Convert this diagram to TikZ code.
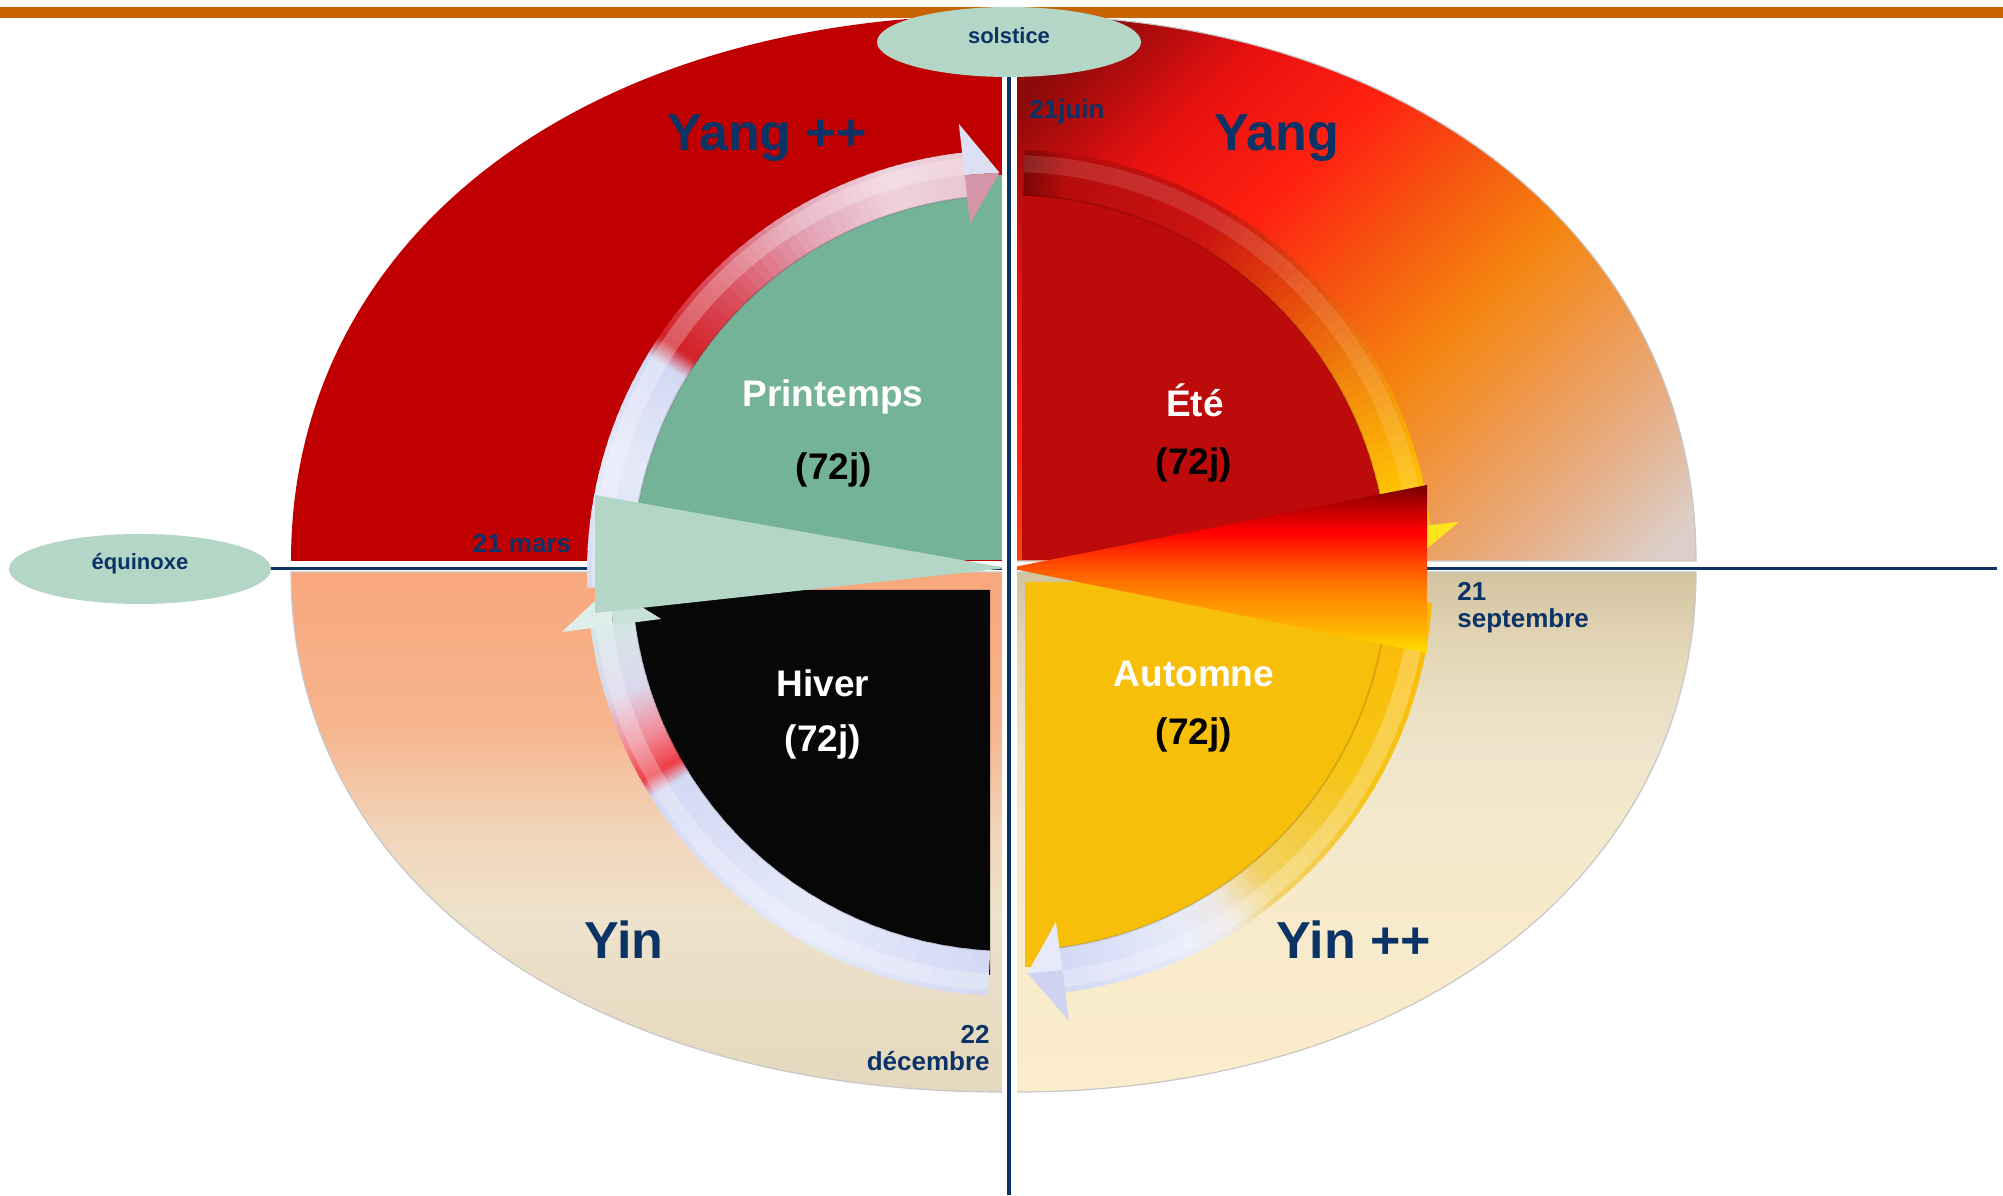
\documentclass[tikz,border=0pt]{standalone}
\usepackage{fontspec}
\setmainfont{Liberation Sans}
\usetikzlibrary{shapes.geometric}

\definecolor{navy}{HTML}{0B3366}
\definecolor{barorange}{HTML}{C86400}
\definecolor{tlred}{HTML}{C00000}
\definecolor{mint}{HTML}{B4D6C6}
\definecolor{spring}{HTML}{75B399}
\definecolor{summer}{HTML}{BD0A0A}
\definecolor{winter}{HTML}{070707}
\definecolor{autumn}{HTML}{F8BF0A}
% ring colours
\definecolor{lavA}{HTML}{D3D9F4}
\definecolor{lavW}{HTML}{E6EAFA}
\definecolor{lavD}{HTML}{CDD3F0}
\definecolor{ringred}{HTML}{D32027}
\definecolor{ringred2}{HTML}{D94A58}
\definecolor{ringred3}{HTML}{EE3E46}
\definecolor{pinkA}{HTML}{E3A3B6}
\definecolor{pinkW}{HTML}{EFD2DE}
\definecolor{pinkB}{HTML}{E9C6D4}
\definecolor{pinkC}{HTML}{F08E9A}
\definecolor{lavP}{HTML}{DCD8EE}
\definecolor{headlav}{HTML}{DCE0F2}
\definecolor{headpink}{HTML}{D596AA}
\definecolor{drk}{HTML}{7A0606}
\definecolor{rrA}{HTML}{B50C0C}
\definecolor{rrB}{HTML}{CC1410}
\definecolor{orA}{HTML}{E5470C}
\definecolor{orB}{HTML}{F2850C}
\definecolor{yeA}{HTML}{FDBA06}
\definecolor{yeB}{HTML}{FFD000}
\definecolor{yeH}{HTML}{FFE51F}
\definecolor{gold}{HTML}{F6C414}
\definecolor{goldL}{HTML}{F2D264}
\definecolor{creamW}{HTML}{EEE8E6}
\definecolor{mintL}{HTML}{D4E6E6}
\definecolor{mintH}{HTML}{DDEFE8}
\definecolor{mintHb}{HTML}{C8E2D8}
% triangle shading colours
\definecolor{tyel}{HTML}{FFE200}
\definecolor{tyel2}{HTML}{FFB400}
\definecolor{torg}{HTML}{FF8000}
\definecolor{tora}{HTML}{FF4000}
\definecolor{tred}{HTML}{FF0000}
\definecolor{tdred}{HTML}{C00000}
\definecolor{tdark}{HTML}{780000}
% quadrant shading colours
\definecolor{qa}{HTML}{8E0A0A}
\definecolor{qb}{HTML}{E81010}
\definecolor{qc}{HTML}{FF2010}
\definecolor{qd}{HTML}{F55A10}
\definecolor{qe}{HTML}{F5850F}
\definecolor{qf}{HTML}{EE9A50}
\definecolor{qg}{HTML}{E6B08A}
\definecolor{qh}{HTML}{DCCFC8}
\definecolor{bla}{HTML}{E4D8BE}
\definecolor{blb}{HTML}{EDE2CA}
\definecolor{blc}{HTML}{F1D5BA}
\definecolor{bld}{HTML}{F6B58E}
\definecolor{ble}{HTML}{F9A77D}
\definecolor{bra}{HTML}{FBEDCB}
\definecolor{brb}{HTML}{F7EACB}
\definecolor{brc}{HTML}{EFE5CC}
\definecolor{brd}{HTML}{E3D6B6}
\definecolor{bre}{HTML}{D2C3A0}

\pgfdeclareverticalshading{redtri}{100bp}{color(0bp)=(tyel); color(25bp)=(tyel); color(32bp)=(tyel2); color(44bp)=(torg); color(53bp)=(tora); color(61bp)=(tred); color(68bp)=(tdred); color(75bp)=(tdark); color(100bp)=(tdark)}
\pgfdeclareverticalshading{trq}{100bp}{color(0bp)=(qa); color(20bp)=(qa); color(30bp)=(qb); color(40bp)=(qc); color(50bp)=(qd); color(58bp)=(qe); color(67bp)=(qf); color(75bp)=(qg); color(83bp)=(qh); color(100bp)=(qh)}
\pgfdeclareverticalshading{blq}{100bp}{color(0bp)=(bla); color(25bp)=(bla); color(42bp)=(blb); color(50bp)=(blc); color(60bp)=(bld); color(75bp)=(ble); color(100bp)=(ble)}
\pgfdeclareverticalshading{brq}{100bp}{color(0bp)=(bra); color(25bp)=(bra); color(45bp)=(brb); color(58bp)=(brc); color(68bp)=(brd); color(75bp)=(bre); color(100bp)=(bre)}

\def\RingIn{378}
\def\RingOut{423}
\def\RingMid{400.5}

\newcommand\ringpart[4]{%
  \foreach \k in {0,...,9}{%
    \pgfmathsetmacro\aA{#1+(#2-#1)*\k/10}%
    \pgfmathsetmacro\aB{#1+(#2-#1)*(\k+1.5)/10}%
    \pgfmathtruncatemacro\pc{100*(\k+0.5)/10}%
    \fill[#4!\pc!#3] (\aA:\RingIn) arc[start angle=\aA,end angle=\aB,radius=\RingIn] -- (\aB:\RingOut) arc[start angle=\aB,end angle=\aA,radius=\RingOut] -- cycle;
  }}
\newcommand\ringgloss[3]{%
  \fill[white,opacity=#3] (#1:401) arc[start angle=#1,end angle=#2,radius=401] -- (#2:418) arc[start angle=#2,end angle=#1,radius=418] -- cycle;
  \draw[black,opacity=.15,line width=.8pt] (#1:\RingIn) arc[start angle=#1,end angle=#2,radius=\RingIn];}
\newcommand\arrowhd[4]{%
  \fill[#3] (#1:452) -- (#2:\RingMid) -- (#1:\RingMid) -- cycle;
  \fill[#4] (#1:352) -- (#2:\RingMid) -- (#1:\RingMid) -- cycle;}

\begin{document}
\begin{tikzpicture}[x=0.5pt,y=0.5pt,
  bigt/.style={font=\bfseries\fontsize{26}{26}\selectfont, text=navy, inner sep=0, anchor=base},
  seasonw/.style={font=\bfseries\fontsize{18.5}{18.5}\selectfont, text=white, inner sep=0, anchor=base},
  seasonb/.style={font=\bfseries\fontsize{18.5}{18.5}\selectfont, text=black, inner sep=0, anchor=base},
  smallt/.style={font=\bfseries\fontsize{13}{13.5}\selectfont, text=navy, inner sep=0},
  tinyt/.style={font=\bfseries\fontsize{11}{11}\selectfont, text=navy, inner sep=0, anchor=base},
  qedge/.style={draw=black!22, line width=.6pt}]
\useasboundingbox (0,0) rectangle (2003,1195);
\fill[white] (0,0) rectangle (2003,1195);

% ---- outer quadrants ----
\fill[tlred] (1003,634) -- (291,634) .. controls (291,957) and (582,1180) .. (1003,1180) -- cycle;
\path[shading=trq, shading angle=-135, qedge] (1016,634) -- (1016,1180) .. controls (1410,1180) and (1696,957) .. (1696,634) -- cycle;
\path[shading=blq, qedge] (1003,623) -- (291,623) .. controls (291,316) and (583,103) .. (1003,103) -- cycle;
\path[shading=brq, qedge] (1016,623) -- (1696,623) .. controls (1696,316) and (1410,103) .. (1016,103) -- cycle;

% orange bar
\fill[barorange] (0,1177) rectangle (2003,1188);

% horizontal axis
\draw[navy, line width=1.75pt] (200,626.5) -- (1997,626.5);

% ---- seasons ----
\fill[spring] (1003,635) -- +(180:385) arc[start angle=180,end angle=90,radius=385] -- cycle;
\fill[summer] (1022,635) -- +(90:385) arc[start angle=90,end angle=0,radius=385] -- cycle;
\fill[winter] (990,605) -- +(180:385) arc[start angle=180,end angle=270,radius=385] -- cycle;
\fill[autumn] (1025,613) -- +(0:385) arc[start angle=0,end angle=-90,radius=385] -- cycle;

% ---- arrow rings ----
\begin{scope}[shift={(1010,622)}]
 % spring arrow
 \ringpart{182}{165}{lavA}{lavW}
 \ringpart{165}{149}{lavW}{lavA}
 \ringpart{149}{146}{lavA}{ringred}
 \ringpart{146}{136}{ringred}{ringred2}
 \ringpart{136}{121}{ringred2}{pinkA}
 \ringpart{121}{107}{pinkA}{pinkW}
 \ringpart{107}{96.5}{pinkW}{pinkB}
 \ringgloss{182}{96.5}{.25}
 \arrowhd{96.5}{91.5}{headlav}{headpink}
 % summer arrow
 \ringpart{88}{82}{drk}{rrA}
 \ringpart{82}{60}{rrA}{rrB}
 \ringpart{60}{45}{rrB}{orA}
 \ringpart{45}{30}{orA}{orB}
 \ringpart{30}{15}{orB}{yeA}
 \ringpart{15}{6.5}{yeA}{yeB}
 \ringgloss{88}{6.5}{.12}
 \arrowhd{6.5}{1.5}{yeH}{yeB}
 % autumn arrow
 \ringpart{-4}{-30}{yeA}{gold}
 \ringpart{-30}{-50}{gold}{goldL}
 \ringpart{-50}{-58}{goldL}{creamW}
 \ringpart{-58}{-65}{creamW}{lavW}
 \ringpart{-65}{-82.5}{lavW}{lavA}
 \ringgloss{-4}{-82.5}{.25}
 \arrowhd{-82.5}{-87.5}{lavD}{lavW}
 % winter arrow
 \ringpart{267}{240}{lavA}{lavW}
 \ringpart{240}{212}{lavW}{lavA}
 \ringpart{212}{209.5}{lavA}{ringred3}
 \ringpart{209.5}{204}{ringred3}{pinkC}
 \ringpart{204}{197}{pinkC}{lavP}
 \ringpart{197}{187.5}{lavP}{mintL}
 \ringgloss{267}{187.5}{.25}
 \arrowhd{187.5}{182}{mintH}{mintHb}
\end{scope}

% ---- triangles ----
\fill[mint] (595,700) -- (595,582) -- (1007,627) -- cycle;
\path[shading=redtri] (1427,710) -- (1427,542) -- (1009,627) -- cycle;

% vertical axis
\draw[white, line width=7.5pt] (1009.5,0) -- (1009.5,1130);
\draw[navy, line width=2pt] (1009,0) -- (1009,1130);

% ---- ellipses ----
\fill[mint] (1009,1153) ellipse [x radius=132, y radius=35];
\fill[mint] (140,626) ellipse [x radius=131, y radius=35];

% ---- texts ----
\node[tinyt] (solstice) at (1009,1151) {solstice};
\node[tinyt] (equinoxe) at (140,625) {équinoxe};

\node[bigt] (yangpp) at (767,1044) {Yang ++};
\node[bigt] (yang) at (1277,1044) {Yang};
\node[bigt] (yin) at (624,236) {Yin};
\node[bigt] (yinpp) at (1354,236) {Yin ++};

\node[seasonw] (printemps) at (833,788) {Printemps};
\node[seasonb] (p72) at (834,715) {(72j)};
\node[seasonw] (ete) at (1195,778) {Été};
\node[seasonb] (e72) at (1194,720) {(72j)};
\node[seasonw] (hiver) at (823,498) {Hiver};
\node[seasonw] (h72) at (823,443) {(72j)};
\node[seasonw] (automne) at (1194,508) {Automne};
\node[seasonb] (a72) at (1194,450) {(72j)};

\node[smallt, anchor=base] (mars) at (522,642) {21 mars};
\node[smallt, anchor=base west] (juin) at (1029,1076) {21juin};
\node[smallt, anchor=base west] (sept) at (1457,594) {\begin{tabular}[t]{@{}l@{}}21\\septembre\end{tabular}};
\node[smallt, anchor=base east] (dec) at (990,152) {\begin{tabular}[t]{@{}r@{}}22\\décembre\end{tabular}};
\end{tikzpicture}
\end{document}
